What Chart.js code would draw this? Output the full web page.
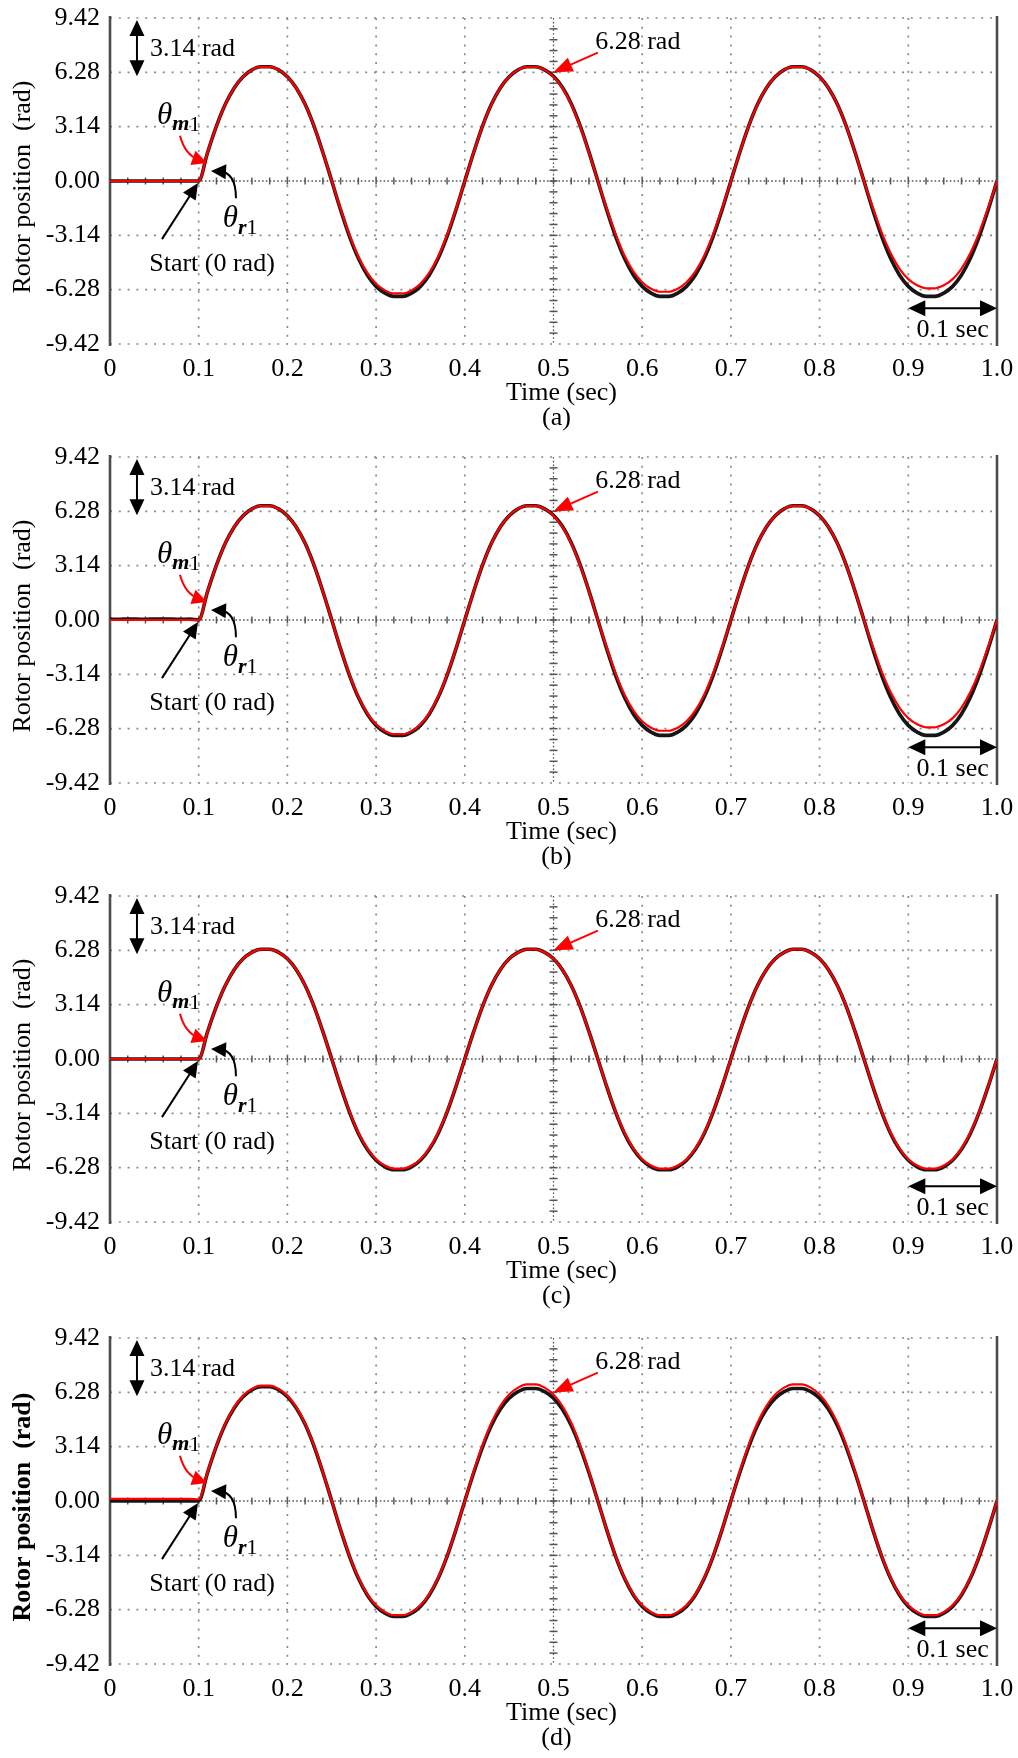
<!DOCTYPE html>
<html lang="en">
<head>
<meta charset="UTF-8">
<title>Rotor position</title>
<script src="https://cdn.jsdelivr.net/npm/chart.js"></script>
<style>
  body { margin: 0; background: #fff; }
  .panel { position: relative; width: 1018px; }
</style>
</head>
<body>
<div class="panel" style="height:440px"><canvas id="chartA"></canvas></div>
<div class="panel" style="height:439px"><canvas id="chartB"></canvas></div>
<div class="panel" style="height:440px"><canvas id="chartC"></canvas></div>
<div class="panel" style="height:439px"><canvas id="chartD"></canvas></div>

<script>
// time axis (sec)
const timeSec = [
  0.00, 0.01, 0.02, 0.03, 0.04, 0.05, 0.06, 0.07, 0.08, 0.09,
  0.10, 0.11, 0.12, 0.13, 0.14, 0.15, 0.16, 0.17, 0.18, 0.19,
  0.20, 0.21, 0.22, 0.23, 0.24, 0.25, 0.26, 0.27, 0.28, 0.29,
  0.30, 0.31, 0.32, 0.33, 0.34, 0.35, 0.36, 0.37, 0.38, 0.39,
  0.40, 0.41, 0.42, 0.43, 0.44, 0.45, 0.46, 0.47, 0.48, 0.49,
  0.50, 0.51, 0.52, 0.53, 0.54, 0.55, 0.56, 0.57, 0.58, 0.59,
  0.60, 0.61, 0.62, 0.63, 0.64, 0.65, 0.66, 0.67, 0.68, 0.69,
  0.70, 0.71, 0.72, 0.73, 0.74, 0.75, 0.76, 0.77, 0.78, 0.79,
  0.80, 0.81, 0.82, 0.83, 0.84, 0.85, 0.86, 0.87, 0.88, 0.89,
  0.90, 0.91, 0.92, 0.93, 0.94, 0.95, 0.96, 0.97, 0.98, 0.99,
  1.00
];

const xTickValues = [0, 0.1, 0.2, 0.3, 0.4, 0.5, 0.6, 0.7, 0.8, 0.9, 1.0];
const xTickLabels = ['0', '0.1', '0.2', '0.3', '0.4', '0.5', '0.6', '0.7', '0.8', '0.9', '1.0'];
const yTickValues = [-9.42, -6.28, -3.14, 0, 3.14, 6.28, 9.42];
const yTickLabels = ['-9.42', '-6.28', '-3.14', '0.00', '3.14', '6.28', '9.42'];

// (a) measured rotor position (black) and reference (red), rad
const blackA = [
  0, 0, 0, 0, 0, 0, 0, 0, 0, 0,
  0,
  1.65, 3.17, 4.43, 5.38, 6.03, 6.42, 6.6, 6.6, 6.42, 6.03, 5.38, 4.43, 3.17, 1.65, 0,
  -1.67, -3.2, -4.47, -5.43, -6.09, -6.48, -6.67, -6.67, -6.48, -6.09, -5.43, -4.47, -3.2, -1.67, 0,
  1.65, 3.17, 4.43, 5.38, 6.03, 6.42, 6.6, 6.6, 6.42, 6.05, 5.42, 4.47, 3.2, 1.67, 0,
  -1.67, -3.2, -4.47, -5.43, -6.09, -6.48, -6.67, -6.67, -6.48, -6.09, -5.43, -4.47, -3.2, -1.67, 0,
  1.65, 3.17, 4.43, 5.38, 6.03, 6.42, 6.6, 6.6, 6.42, 6.03, 5.38, 4.43, 3.17, 1.65, 0,
  -1.67, -3.2, -4.47, -5.43, -6.09, -6.48, -6.67, -6.67, -6.48, -6.09, -5.43, -4.47, -3.2, -1.67, 0
];
const redA = [
  0, 0, 0, 0, 0, 0, 0, 0, 0, 0,
  0,
  1.65, 3.17, 4.43, 5.38, 6.03, 6.42, 6.6, 6.6, 6.42, 6.03, 5.38, 4.43, 3.17, 1.65, 0,
  -1.63, -3.12, -4.36, -5.3, -5.94, -6.32, -6.5, -6.5, -6.32, -5.94, -5.3, -4.36, -3.12, -1.63, 0,
  1.65, 3.17, 4.43, 5.38, 6.03, 6.42, 6.6, 6.6, 6.42, 6.03, 5.38, 4.43, 3.17, 1.65, 0,
  -1.6, -3.07, -4.3, -5.22, -5.85, -6.23, -6.4, -6.4, -6.23, -5.85, -5.22, -4.3, -3.07, -1.6, 0,
  1.65, 3.17, 4.43, 5.38, 6.03, 6.42, 6.6, 6.6, 6.42, 6.03, 5.38, 4.43, 3.17, 1.65, 0,
  -1.55, -2.98, -4.16, -5.06, -5.67, -6.03, -6.2, -6.2, -6.03, -5.67, -5.06, -4.16, -2.98, -1.55, 0
];

// (b)
const blackB = [
  0.05, 0.04, 0.06, 0.05, 0.04, 0.06, 0.05, 0.05, 0.04, 0.05,
  0,
  1.65, 3.17, 4.43, 5.38, 6.03, 6.42, 6.6, 6.6, 6.42, 6.03, 5.38, 4.43, 3.17, 1.65, 0,
  -1.67, -3.2, -4.47, -5.43, -6.09, -6.48, -6.67, -6.67, -6.48, -6.09, -5.43, -4.47, -3.2, -1.67, 0,
  1.65, 3.17, 4.43, 5.38, 6.03, 6.42, 6.6, 6.6, 6.42, 6.05, 5.42, 4.47, 3.2, 1.67, 0,
  -1.67, -3.2, -4.47, -5.43, -6.09, -6.48, -6.67, -6.67, -6.48, -6.09, -5.43, -4.47, -3.2, -1.67, 0,
  1.65, 3.17, 4.43, 5.38, 6.03, 6.42, 6.6, 6.6, 6.42, 6.03, 5.38, 4.43, 3.17, 1.65, 0,
  -1.67, -3.2, -4.47, -5.43, -6.09, -6.48, -6.67, -6.67, -6.48, -6.09, -5.43, -4.47, -3.2, -1.67, 0
];
const redB = [
  0, 0, 0, 0, 0, 0, 0, 0, 0, 0,
  0,
  1.65, 3.17, 4.43, 5.38, 6.03, 6.42, 6.6, 6.6, 6.42, 6.03, 5.38, 4.43, 3.17, 1.65, 0,
  -1.65, -3.17, -4.43, -5.38, -6.03, -6.42, -6.6, -6.6, -6.42, -6.03, -5.38, -4.43, -3.17, -1.65, 0,
  1.65, 3.17, 4.43, 5.38, 6.03, 6.42, 6.6, 6.6, 6.42, 6.03, 5.38, 4.43, 3.17, 1.65, 0,
  -1.6, -3.07, -4.3, -5.22, -5.85, -6.23, -6.4, -6.4, -6.23, -5.85, -5.22, -4.3, -3.07, -1.6, 0,
  1.65, 3.17, 4.43, 5.38, 6.03, 6.42, 6.6, 6.6, 6.42, 6.03, 5.38, 4.43, 3.17, 1.65, 0,
  -1.55, -2.98, -4.16, -5.06, -5.67, -6.03, -6.2, -6.2, -6.03, -5.67, -5.06, -4.16, -2.98, -1.55, 0
];

// (c)
const blackC = [
  0, 0, 0, 0, 0, 0, 0, 0, 0, 0,
  0,
  1.58, 3.04, 4.25, 5.16, 5.79, 6.16, 6.34, 6.34, 6.16, 5.79, 5.16, 4.25, 3.04, 1.58, 0,
  -1.6, -3.07, -4.3, -5.22, -5.85, -6.23, -6.4, -6.4, -6.23, -5.85, -5.22, -4.3, -3.07, -1.6, 0,
  1.58, 3.04, 4.25, 5.16, 5.79, 6.16, 6.34, 6.34, 6.16, 5.79, 5.16, 4.25, 3.04, 1.58, 0,
  -1.6, -3.07, -4.3, -5.22, -5.85, -6.23, -6.4, -6.4, -6.23, -5.85, -5.22, -4.3, -3.07, -1.6, 0,
  1.58, 3.04, 4.25, 5.16, 5.79, 6.16, 6.34, 6.34, 6.16, 5.79, 5.16, 4.25, 3.04, 1.58, 0,
  -1.6, -3.07, -4.3, -5.22, -5.85, -6.23, -6.4, -6.4, -6.23, -5.85, -5.22, -4.3, -3.07, -1.6, 0
];
const redC = [
  0, 0, 0, 0, 0, 0, 0, 0, 0, 0,
  0,
  1.58, 3.04, 4.25, 5.16, 5.79, 6.16, 6.34, 6.34, 6.16, 5.79, 5.16, 4.25, 3.04, 1.58, 0,
  -1.58, -3.04, -4.25, -5.16, -5.79, -6.16, -6.34, -6.34, -6.16, -5.79, -5.16, -4.25, -3.04, -1.58, 0,
  1.58, 3.04, 4.25, 5.16, 5.79, 6.16, 6.34, 6.34, 6.16, 5.79, 5.16, 4.25, 3.04, 1.58, 0,
  -1.58, -3.04, -4.25, -5.16, -5.79, -6.16, -6.34, -6.34, -6.16, -5.79, -5.16, -4.25, -3.04, -1.58, 0,
  1.58, 3.04, 4.25, 5.16, 5.79, 6.16, 6.34, 6.34, 6.16, 5.79, 5.16, 4.25, 3.04, 1.58, 0,
  -1.58, -3.04, -4.25, -5.16, -5.79, -6.16, -6.34, -6.34, -6.16, -5.79, -5.16, -4.25, -3.04, -1.58, 0
];

// (d)
const blackD = [
  0, 0, 0, 0, 0, 0, 0, 0, 0, 0,
  0,
  1.65, 3.17, 4.43, 5.38, 6.03, 6.42, 6.6, 6.6, 6.42, 6.03, 5.38, 4.43, 3.17, 1.65, 0,
  -1.67, -3.2, -4.47, -5.43, -6.09, -6.48, -6.67, -6.67, -6.48, -6.09, -5.43, -4.47, -3.2, -1.67, 0,
  1.63, 3.12, 4.36, 5.3, 5.94, 6.32, 6.5, 6.5, 6.32, 5.94, 5.3, 4.36, 3.12, 1.63, 0,
  -1.67, -3.2, -4.47, -5.43, -6.09, -6.48, -6.67, -6.67, -6.48, -6.09, -5.43, -4.47, -3.2, -1.67, 0,
  1.63, 3.12, 4.36, 5.3, 5.94, 6.32, 6.5, 6.5, 6.32, 5.94, 5.3, 4.36, 3.12, 1.63, 0,
  -1.67, -3.2, -4.47, -5.43, -6.09, -6.48, -6.67, -6.67, -6.48, -6.09, -5.43, -4.47, -3.2, -1.67, 0
];
const redD = [
  0.12, 0.12, 0.12, 0.12, 0.12, 0.12, 0.12, 0.12, 0.12, 0.12,
  0.1,
  1.67, 3.2, 4.47, 5.43, 6.09, 6.48, 6.67, 6.67, 6.48, 6.09, 5.43, 4.47, 3.2, 1.67, 0,
  -1.65, -3.17, -4.43, -5.38, -6.03, -6.42, -6.6, -6.6, -6.42, -6.03, -5.38, -4.43, -3.17, -1.65, 0,
  1.69, 3.23, 4.52, 5.49, 6.15, 6.55, 6.74, 6.74, 6.55, 6.15, 5.49, 4.52, 3.23, 1.69, 0,
  -1.65, -3.17, -4.43, -5.38, -6.03, -6.42, -6.6, -6.6, -6.42, -6.03, -5.38, -4.43, -3.17, -1.65, 0,
  1.69, 3.23, 4.52, 5.49, 6.15, 6.55, 6.74, 6.74, 6.55, 6.15, 5.49, 4.52, 3.23, 1.69, 0,
  -1.65, -3.17, -4.43, -5.38, -6.03, -6.42, -6.6, -6.6, -6.42, -6.03, -5.38, -4.43, -3.17, -1.65, 0
];

const SERIF = '"Liberation Serif", "DejaVu Serif", serif';
const PLOT_HEIGHT = 326;

// annotation anchors, in data units (sec, rad)
const notes = {
  span314: { t: 0.0304, top: 9.3, bottom: 6.05, textT: 0.045, textV: 7.6 },
  mark628: { tip: [0.5, 6.28], tail: [0.55, 7.42], textT: 0.547, textV: 8.0 },
  thetaM: { tail: [0.0789, 2.61], ctrl: [0.0846, 1.5], tip: [0.1094, 1.04], textT: 0.053, textV: 3.77 },
  thetaR: { tail: [0.142, -0.99], ctrl: [0.142, 0.5], tip: [0.1139, 0.58], textT: 0.127, textV: -2.2 },
  start: { tail: [0.0586, -3.36], tip: [0.0992, -0.12], textT: 0.115, textV: -4.81 },
  span01: { from: 0.9, to: 1.0, v: -7.36, textT: 0.95, textV: -8.6 }
};

function arrowHead(ctx, x, y, ang, len, half, color) {
  ctx.save();
  ctx.fillStyle = color;
  ctx.translate(x, y);
  ctx.rotate(ang);
  ctx.beginPath();
  ctx.moveTo(0, 0);
  ctx.lineTo(-len, -half);
  ctx.lineTo(-len, half);
  ctx.closePath();
  ctx.fill();
  ctx.restore();
}

function strokeLine(ctx, x1, y1, x2, y2) {
  ctx.beginPath();
  ctx.moveTo(x1, y1);
  ctx.lineTo(x2, y2);
  ctx.stroke();
}

function theta(ctx, sub, tx, ty) {
  ctx.textAlign = 'left';
  ctx.font = 'italic 31px ' + SERIF;
  ctx.fillText('\u03b8', tx, ty);
  const w = ctx.measureText('\u03b8').width;
  ctx.font = 'italic bold 22px ' + SERIF;
  ctx.fillText(sub, tx + w, ty + 9);
  const w2 = ctx.measureText(sub).width;
  ctx.font = '22px ' + SERIF;
  ctx.fillText('1', tx + w + w2, ty + 9);
}

const scopePlugin = {
  id: 'scope',
  beforeDatasetsDraw(chart) {
    const { ctx, chartArea: a, scales: { x, y } } = chart;
    ctx.save();
    // dotted grid
    ctx.strokeStyle = '#8a8a8a';
    ctx.lineWidth = 1.7;
    ctx.setLineDash([2, 6.8]);
    xTickValues.forEach(v => {
      if (v === 0 || v === 1 || v === 0.5) return;
      const px = x.getPixelForValue(v);
      strokeLine(ctx, px, a.top, px, a.bottom);
    });
    yTickValues.forEach(v => {
      if (v === 0) return;
      const py = y.getPixelForValue(v);
      strokeLine(ctx, a.left, py, a.right, py);
    });
    // centre cross with small division marks
    ctx.strokeStyle = '#555';
    ctx.lineWidth = 1.3;
    ctx.setLineDash([1.6, 2.2]);
    const y0 = y.getPixelForValue(0);
    const xm = x.getPixelForValue(0.5);
    strokeLine(ctx, a.left, y0, a.right, y0);
    strokeLine(ctx, xm, a.top, xm, a.bottom);
    ctx.setLineDash([]);
    ctx.lineWidth = 1.5;
    for (let i = 1; i < 50; i++) {
      const px = x.getPixelForValue(i * 0.02);
      strokeLine(ctx, px, y0 - 3.5, px, y0 + 3.5);
    }
    for (let j = 1; j < 30; j++) {
      const py = y.getPixelForValue(-9.42 + j * 0.628);
      strokeLine(ctx, xm - 4, py, xm + 4, py);
    }
    // solid left / right frame
    ctx.strokeStyle = '#4d4d4d';
    ctx.lineWidth = 2.6;
    strokeLine(ctx, a.left, a.top - 2, a.left, a.bottom + 2);
    strokeLine(ctx, a.right, a.top - 2, a.right, a.bottom + 2);
    ctx.restore();
  },
  afterDatasetsDraw(chart, args, opts) {
    const { ctx, chartArea: a, scales: { x, y } } = chart;
    const P = (t, v) => [x.getPixelForValue(t), y.getPixelForValue(v)];
    ctx.save();
    ctx.textBaseline = 'middle';
    ctx.font = '26px ' + SERIF;
    ctx.fillStyle = '#000';
    ctx.strokeStyle = '#000';
    ctx.lineWidth = 2;

    // 3.14 rad span
    let n = notes.span314;
    const [ax, ayTop] = P(n.t, n.top);
    const ayBot = y.getPixelForValue(n.bottom);
    strokeLine(ctx, ax, ayTop + 10, ax, ayBot - 10);
    arrowHead(ctx, ax, ayTop, -Math.PI / 2, 16, 7.5, '#000');
    arrowHead(ctx, ax, ayBot, Math.PI / 2, 16, 7.5, '#000');
    ctx.textAlign = 'left';
    let [tx, ty] = P(n.textT, n.textV);
    ctx.fillText('3.14 rad', tx, ty);

    // 6.28 rad marker (red arrow)
    n = notes.mark628;
    const [hx, hy] = P(...n.tip);
    const [sx, sy] = P(...n.tail);
    const ang = Math.atan2(hy - sy, hx - sx);
    ctx.strokeStyle = '#ff0000';
    strokeLine(ctx, sx, sy, hx - 12 * Math.cos(ang), hy - 12 * Math.sin(ang));
    arrowHead(ctx, hx, hy, ang, 19, 7.5, '#ff0000');
    [tx, ty] = P(n.textT, n.textV);
    ctx.fillText('6.28 rad', tx, ty);

    // theta_m1 (red curved arrow)
    n = notes.thetaM;
    let p0 = P(...n.tail), pc = P(...n.ctrl), p1 = P(...n.tip);
    ctx.beginPath();
    ctx.moveTo(p0[0], p0[1]);
    ctx.quadraticCurveTo(pc[0], pc[1], p1[0] - 8, p1[1] - 3);
    ctx.stroke();
    arrowHead(ctx, p1[0], p1[1], Math.atan2(p1[1] - pc[1], p1[0] - pc[0]), 15, 7.5, '#ff0000');
    theta(ctx, 'm', ...P(n.textT, n.textV));

    // theta_r1 (black curved arrow)
    n = notes.thetaR;
    p0 = P(...n.tail); pc = P(...n.ctrl); p1 = P(...n.tip);
    ctx.strokeStyle = '#000';
    ctx.beginPath();
    ctx.moveTo(p0[0], p0[1]);
    ctx.quadraticCurveTo(pc[0], pc[1], p1[0] + 8, p1[1]);
    ctx.stroke();
    arrowHead(ctx, p1[0], p1[1], Math.atan2(p1[1] - pc[1], p1[0] - pc[0]), 15, 7.5, '#000');
    theta(ctx, 'r', ...P(n.textT, n.textV));

    // Start (0 rad)
    n = notes.start;
    p0 = P(...n.tail); p1 = P(...n.tip);
    const sa = Math.atan2(p1[1] - p0[1], p1[0] - p0[0]);
    strokeLine(ctx, p0[0], p0[1], p1[0] - 12 * Math.cos(sa), p1[1] - 12 * Math.sin(sa));
    arrowHead(ctx, p1[0], p1[1], sa, 16, 7.5, '#000');
    ctx.font = '26px ' + SERIF;
    ctx.textAlign = 'center';
    [tx, ty] = P(n.textT, n.textV);
    ctx.fillText('Start (0 rad)', tx, ty);

    // 0.1 sec span
    n = notes.span01;
    const [bx1, by] = P(n.from, n.v);
    const bx2 = x.getPixelForValue(n.to);
    strokeLine(ctx, bx1 + 10, by, bx2 - 10, by);
    arrowHead(ctx, bx1, by, Math.PI, 17, 8, '#000');
    arrowHead(ctx, bx2, by, 0, 17, 8, '#000');
    [tx, ty] = P(n.textT, n.textV);
    ctx.fillText('0.1 sec', tx, ty);

    // axis titles and panel letter
    const cx = (a.left + a.right) / 2;
    ctx.fillText('Time (sec)', cx + 8, a.bottom + 49);
    ctx.fillText(opts.letter, cx + 3, a.bottom + 74);
    ctx.save();
    ctx.translate(23, (a.top + a.bottom) / 2 + 6);
    ctx.rotate(-Math.PI / 2);
    ctx.font = (opts.boldTitle ? 'bold ' : '') + '26px ' + SERIF;
    ctx.fillText('Rotor position  (rad)', 0, 0);
    ctx.restore();
    ctx.restore();
  }
};

function makePanel(canvasId, letter, top, black, red, boldTitle) {
  const canvas = document.getElementById(canvasId);
  const H = canvas.parentNode.clientHeight;
  new Chart(canvas, {
    type: 'line',
    data: {
      datasets: [
        {
          label: 'theta_m',
          data: timeSec.map((t, i) => ({ x: t, y: red[i] })),
          borderColor: '#ff0000',
          borderWidth: 2.2,
          pointRadius: 0,
          cubicInterpolationMode: 'monotone'
        },
        {
          label: 'theta_r',
          data: timeSec.map((t, i) => ({ x: t, y: black[i] })),
          borderColor: '#161616',
          borderWidth: 3.6,
          pointRadius: 0,
          cubicInterpolationMode: 'monotone'
        }
      ]
    },
    options: {
      responsive: true,
      maintainAspectRatio: false,
      animation: false,
      events: [],
      layout: { padding: { top: top, right: 21, left: 0, bottom: 0 } },
      plugins: {
        legend: { display: false },
        tooltip: { enabled: false },
        scope: { letter: letter, boldTitle: boldTitle }
      },
      scales: {
        x: {
          type: 'linear',
          min: 0,
          max: 1,
          grid: { display: false, drawTicks: false },
          border: { display: false },
          afterBuildTicks: s => { s.ticks = xTickValues.map(v => ({ value: v })); },
          afterFit: s => { s.height = H - top - PLOT_HEIGHT; s.paddingLeft = 0; s.paddingRight = 0; },
          ticks: {
            autoSkip: false,
            maxRotation: 0,
            padding: 10,
            color: '#000',
            font: { family: SERIF, size: 26 },
            callback: (v, i) => xTickLabels[i]
          }
        },
        y: {
          type: 'linear',
          min: -9.42,
          max: 9.42,
          grid: { display: false, drawTicks: false },
          border: { display: false },
          afterBuildTicks: s => { s.ticks = yTickValues.map(v => ({ value: v })); },
          afterFit: s => { s.width = 110; s.paddingTop = 0; s.paddingBottom = 0; },
          ticks: {
            autoSkip: false,
            padding: 10,
            color: '#000',
            font: { family: SERIF, size: 26 },
            callback: (v, i) => yTickLabels[i]
          }
        }
      }
    },
    plugins: [scopePlugin]
  });
}

makePanel('chartA', '(a)', 18, blackA, redA, false);
makePanel('chartB', '(b)', 17, blackB, redB, false);
makePanel('chartC', '(c)', 17, blackC, redC, false);
makePanel('chartD', '(d)', 19, blackD, redD, true);
</script>
</body>
</html>
